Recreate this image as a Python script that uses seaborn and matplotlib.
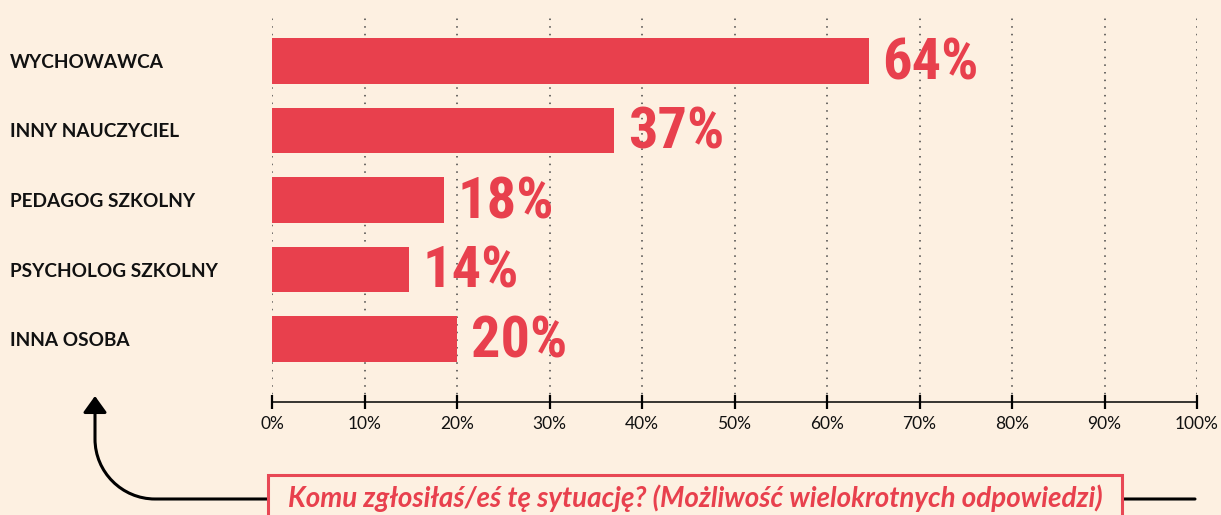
import matplotlib
matplotlib.use("Agg")
import matplotlib.pyplot as plt
import seaborn as sns
import pandas as pd
from matplotlib.patches import Rectangle, FancyArrowPatch
from matplotlib.path import Path
from matplotlib import font_manager

# data
categories = ["WYCHOWAWCA", "INNY NAUCZYCIEL", "PEDAGOG SZKOLNY", "PSYCHOLOG SZKOLNY", "INNA OSOBA"]
values = [64.5, 37.0, 18.6, 14.8, 20.0]
value_labels = ["64%", "37%", "18%", "14%", "20%"]
x_ticks = [0, 10, 20, 30, 40, 50, 60, 70, 80, 90, 100]
x_tick_labels = ["0%", "10%", "20%", "30%", "40%", "50%", "60%", "70%", "80%", "90%", "100%"]
question = "Komu zgłosiłaś/eś tę sytuację? (Możliwość wielokrotnych odpowiedzi)"

BG = "#FDF0E1"
RED = "#E8404D"
W, H = 1221, 515

sns.set_theme(style="white")
plt.rcParams["font.family"] = ["Lato", "DejaVu Sans"]

# narrow face for the big percentages, whatever is installed
names = {f.name for f in font_manager.fontManager.ttflist}
narrow = next((n for n in ["Roboto Condensed", "Liberation Sans Narrow",
                           "DejaVu Sans Condensed", "Noto Sans Condensed"] if n in names), None)
cond_faces = [f for f in font_manager.fontManager.ttflist
              if f.stretch in ("condensed", "extra-condensed", "semi-condensed", 75, 62.5, 87.5)]
if narrow:
    num_font = dict(family=[narrow, "DejaVu Sans"], fontweight="bold")
elif cond_faces:
    num_font = dict(family=[cond_faces[0].name, "DejaVu Sans"], fontweight="bold",
                    fontstretch="condensed")
else:
    num_font = dict(family=["Roboto", "DejaVu Sans"], fontweight="bold")

df = pd.DataFrame({"kto": categories, "procent": values})

fig = plt.figure(figsize=(W / 100, H / 100), dpi=100, facecolor=BG)
ax = fig.add_axes([272 / W, 1 - 402 / H, (1197 - 272) / W, (402 - 14) / H])
ax.set_facecolor(BG)

sns.barplot(data=df, x="procent", y="kto", orient="h", color=RED,
            saturation=1, width=0.66, linewidth=0, ax=ax, zorder=3)

ax.set_xlim(0, 100)
ax.set_ylim(4.906, -0.676)
ax.set_xticks(x_ticks)
ax.set_xticklabels(x_tick_labels, fontsize=12.5, color="#111111")
ax.set_xlabel("")
ax.set_ylabel("")

# category labels pushed to the left edge
ax.tick_params(axis="y", left=False, length=0, pad=189)
for lab in ax.get_yticklabels():
    lab.set_horizontalalignment("left")
    lab.set_fontweight("bold")
    lab.set_fontsize(13.7)
    lab.set_color("#111111")

ax.tick_params(axis="x", bottom=True, direction="inout", length=10, width=1.6,
               color="black", pad=5)
ax.grid(axis="x", linestyle=(0, (1, 4)), color="#444444", linewidth=1.1, zorder=0)
ax.grid(axis="y", visible=False)

for s in ["top", "right", "left"]:
    ax.spines[s].set_visible(False)
ax.spines["bottom"].set_color("black")
ax.spines["bottom"].set_linewidth(1.1)

for i, (v, lab) in enumerate(zip(values, value_labels)):
    ax.annotate(lab, xy=(v, i), xytext=(10, -2), textcoords="offset points",
                ha="left", va="center", color=RED, fontsize=42, **num_font)


def fx(px):
    return px / W


def fy(py):
    return 1 - py / H


# curved arrow from the question up to the labels
verts = [(fx(1195), fy(499)), (fx(155), fy(499)),
         (fx(122), fy(499)), (fx(95), fy(472)), (fx(95), fy(439)),
         (fx(95), fy(396))]
codes = [Path.MOVETO, Path.LINETO, Path.CURVE4, Path.CURVE4, Path.CURVE4, Path.LINETO]
arrow = FancyArrowPatch(path=Path(verts, codes), transform=fig.transFigure,
                        arrowstyle="-|>,head_length=0.5,head_width=0.36",
                        mutation_scale=20, color="black", linewidth=2.2)
fig.patches.append(arrow)

box = Rectangle((fx(268), fy(540)), fx(1122) - fx(268), fy(475) - fy(540),
                transform=fig.transFigure, facecolor=BG, edgecolor="#E84855",
                linewidth=2.2, zorder=5)
fig.patches.append(box)

fig.text(fx(695), fy(498), question, ha="center", va="center", color=RED,
         fontsize=20, fontweight="bold", fontstyle="italic", zorder=6)

fig.savefig("out.png", dpi=100, facecolor=BG)
